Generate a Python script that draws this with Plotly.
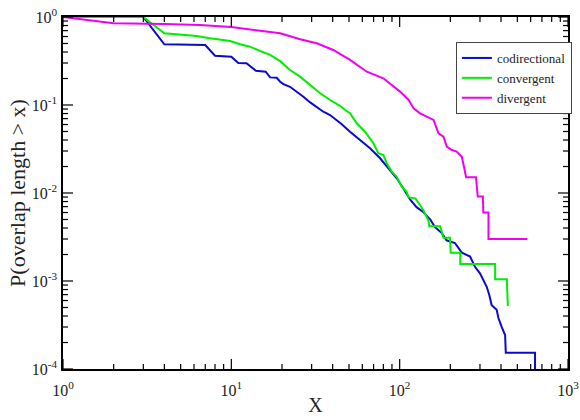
import plotly.graph_objects as go

# codirectional
cod_x = [1, 2, 3, 4, 7, 8, 10, 11, 12.3, 14, 16, 17, 18.6, 19.5, 20.4, 22.3, 24.5, 26.8, 29.4,
         32.2, 35.2, 38.6, 42.3, 45.3, 50.7, 58.2, 66.7, 76.5, 87.7, 96.1, 105, 115, 126, 138,
         152, 162, 178, 190, 213, 234, 262, 280, 300, 314, 329, 341, 352, 377, 386, 404, 423,
         427, 637, 637]
cod_y = [1, 1, 1, 0.49, 0.48, 0.363, 0.354, 0.30, 0.298, 0.245, 0.239, 0.206, 0.204, 0.184,
         0.173, 0.161, 0.142, 0.124, 0.107, 0.0957, 0.0839, 0.0769, 0.0676, 0.0604, 0.0497,
         0.040, 0.0322, 0.0248, 0.0182, 0.0147, 0.0113, 0.0085, 0.0069, 0.0061, 0.0050, 0.0041,
         0.0035, 0.0029, 0.0027, 0.0021, 0.0019, 0.00145, 0.00122, 0.00103, 0.00086, 0.00069,
         0.00053, 0.00047, 0.00038, 0.00030, 0.000243, 0.000153, 0.000153, 0.00001]

# convergent
con_x = [1, 2, 3, 4, 4.96, 6.23, 7.47, 8.57, 9.82, 11.3, 12.9, 14.8, 17, 19.5, 22.3, 25.6,
         29.4, 33.7, 38.6, 44.2, 47.4, 50.7, 55.6, 62.3, 69.8, 74.7, 80, 83.8, 89.7, 96.1,
         103, 110, 113, 124, 132, 138, 148, 150, 174, 182, 199, 201, 229, 229, 369, 369,
         433, 439]
con_y = [1, 1, 1, 0.653, 0.636, 0.608, 0.573, 0.548, 0.533, 0.49, 0.46, 0.411, 0.372, 0.315,
         0.25, 0.21, 0.169, 0.136, 0.114, 0.098, 0.0877, 0.0805, 0.062, 0.0497, 0.0367, 0.0283,
         0.027, 0.0218, 0.0175, 0.0153, 0.0118, 0.0103, 0.0089, 0.0087, 0.0073, 0.0064, 0.0049,
         0.0042, 0.0042, 0.0031, 0.0031, 0.0021, 0.0021, 0.00156, 0.00156, 0.00105, 0.00105,
         0.00052]

# divergent
div_x = [1, 2, 4, 6.5, 10, 12.9, 16.2, 19.5, 20.4, 25.6, 32.2, 40.3, 50.7, 63.8, 80, 100.5,
         113, 121, 132, 145, 159, 170, 182, 190.5, 204, 218, 234, 241, 248, 284, 291, 312, 314,
         337, 337, 574]
div_y = [1, 0.848, 0.83, 0.81, 0.77, 0.725, 0.681, 0.653, 0.636, 0.558, 0.503, 0.422, 0.325,
         0.239, 0.201, 0.142, 0.114, 0.0918, 0.0805, 0.0737, 0.0676, 0.0477, 0.0436, 0.0336,
         0.0308, 0.0295, 0.0258, 0.0199, 0.0151, 0.0151, 0.0091, 0.0091, 0.0060, 0.0060,
         0.0030, 0.0030]

x_ticks = [1, 10, 100, 1000]
x_labels = ["10<sup>0</sup>", "10<sup>1</sup>", "10<sup>2</sup>", "10<sup>3</sup>"]
y_ticks = [1e-4, 1e-3, 1e-2, 1e-1, 1]
y_labels = ["10<sup>-4</sup>", "10<sup>-3</sup>", "10<sup>-2</sup>", "10<sup>-1</sup>", "10<sup>0</sup>"]

x_minor = [m * 10 ** e for e in range(0, 3) for m in range(2, 10)]
y_minor = [m * 10.0 ** e for e in range(-4, 0) for m in range(2, 10)]

FONT = "Liberation Serif"
TXT = "#222"

fig = go.Figure()
for xs, ys, name, col in [(cod_x, cod_y, "codirectional", "#0a0acc"),
                          (con_x, con_y, "convergent", "#00ee00"),
                          (div_x, div_y, "divergent", "#f000f0")]:
    fig.add_trace(go.Scatter(x=xs, y=ys, mode="lines", name=name,
                             line=dict(color=col, width=2)))

# inside tick marks on all four sides, placed at the tick values through the axis scales
tick_line = dict(color="black", width=1.2)
shapes = []
for vals, ln in [(x_ticks, 10), (x_minor, 5)]:
    for v in vals:
        for anchor, sign in [(0, 1), (1, -1)]:
            shapes.append(dict(type="line", xref="x", yref="paper", ysizemode="pixel",
                               yanchor=anchor, x0=v, x1=v, y0=0, y1=sign * ln,
                               line=tick_line, layer="above"))
for vals, ln in [(y_ticks, 10), (y_minor, 5)]:
    for v in vals:
        for anchor, sign in [(0, 1), (1, -1)]:
            shapes.append(dict(type="line", yref="y", xref="paper", xsizemode="pixel",
                               xanchor=anchor, y0=v, y1=v, x0=0, x1=sign * ln,
                               line=tick_line, layer="above"))

common = dict(type="log", showgrid=False, zeroline=False, showline=True, mirror=True,
              linecolor="black", linewidth=1.5, ticks="", tickmode="array",
              tickfont=dict(family=FONT, size=16, color=TXT))

fig.update_xaxes(**common, range=[0, 3], tickvals=x_ticks, ticktext=x_labels,
                 ticklabelstandoff=6,
                 title=dict(text="X", font=dict(family=FONT, size=20, color=TXT), standoff=0))
fig.update_yaxes(**common, range=[-4, 0], tickvals=y_ticks, ticktext=y_labels,
                 ticklabelstandoff=1,
                 title=dict(text="P(overlap length > x)",
                            font=dict(family=FONT, size=22, color=TXT), standoff=0))

fig.update_layout(
    width=580, height=420,
    margin=dict(l=63, r=12, t=17, b=51, autoexpand=False),
    paper_bgcolor="white", plot_bgcolor="white",
    shapes=shapes,
    showlegend=True,
    legend=dict(x=0.778, y=0.929, xanchor="left", yanchor="top",
                bgcolor="white", bordercolor="#444", borderwidth=1,
                font=dict(family=FONT, size=13, color=TXT),
                itemwidth=30, tracegroupgap=0),
)

fig.write_html("out.html")
